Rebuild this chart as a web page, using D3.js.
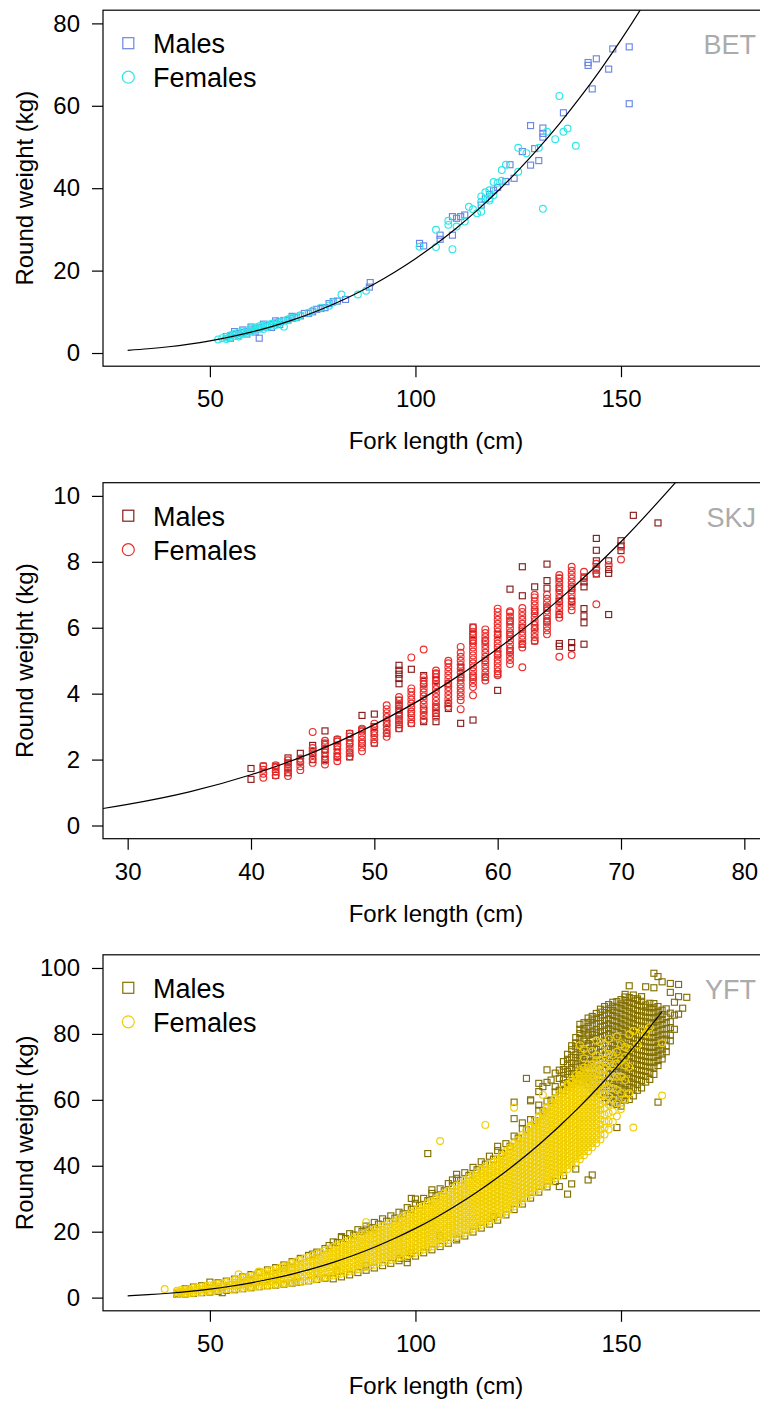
<!DOCTYPE html>
<html>
<head>
<meta charset="utf-8">
<script src="https://cdn.jsdelivr.net/npm/d3@7"></script>
<style>
  body { margin: 0; background: #fff; }
  svg text { font-family: "Liberation Sans", Arial, sans-serif; }
</style>
</head>
<body>
<svg id="chart" width="760" height="1403"></svg>
<script>
// ---- BET : [fork length, round weight]
var betMales = [[152,74.3],[148,73.8],[144,71.4],[142,70.5],[142,69.8],[147,68.9],[143,64.1],[152,60.5],[136,58.3],
  [128,55.2],[131,54.6],[131,53.3],[131,52.4],[129,49.6],[126,48.9],[130,46.7],[128,45.6],[123,45.7],[122,41.6],
  [124,42.4],[116,35.9],[112,33.5],[111,33.1],[110,32.7],[109,33.1],[109,28.6],[106,28.6],[106,27.6],[101,26.6],
  [102,26.0],[118,38.5],[119,39.5],[120,40.2],[117,37.4],
  [89,17.1],[88.8,16.0],[83,13.0],[81,12.6],[80,12.5],[78,11.0],[77,10.8],[75,10.0],[74,9.6],[72,9.0],[71,8.6],
  [70,8.4],[69,8.0],[68,7.9],[67,7.6],[66,7.2],[65,6.9],[64,6.6],[63,6.3],[62,6.1],[62,3.6],[61,5.8],[60,5.6],
  [59,5.2],[58,5.0],[57,4.7],[56,4.5],[55,4.2],[54,4.0],[56,5.2],[58,5.6],[60,6.3],[63,7.0],[66,7.8],[70,8.9],
  [73,9.6],[76,10.6],[79,12.0],[55,3.6],[57,4.2],[59,4.6],[61,5.1],[65,6.2],[67,6.9]];
var betFemales = [[135,62.4],[137,54.5],[136,53.7],[134,51.9],[139,50.3],[132,53.7],[125,49.8],[127,48.5],[130,49.8],
  [122,45.7],[121,44.4],[125,44.0],[119,41.5],[120,41.3],[121,41.8],[116,38.0],[117,39.0],[118,37.5],[116,36.7],
  [118,39.5],[131,35.0],[105,29.9],[105,25.7],[108,31.1],[108,32.1],[109,25.2],[110,30.7],[112,31.9],[114,34.9],
  [115,33.9],[116,34.3],[118,37.0],[101,25.8],[113,35.5],[119,38.3],
  [52,3.3],[53,3.6],[54,3.9],[55,4.3],[55,3.8],[56,4.6],[57,4.4],[57,5.0],[58,5.3],[59,5.5],[59,4.9],[60,6.0],
  [61,6.2],[61,5.6],[62,6.5],[63,6.6],[64,6.9],[64,6.3],[65,7.1],[66,7.3],[67,7.5],[68,6.4],[68,7.8],[69,8.2],
  [70,8.5],[71,8.7],[72,9.2],[74,9.8],[75,10.3],[77,11.0],[79,11.5],[80,12.3],[82,14.2],[86,14.2],[88,15.1],
  [57,4.0],[60,5.2],[63,5.8],[66,6.8],[54,3.4],[56,4.1],[58,4.7],[62,5.9],[65,6.6]];
var betCurve = [[30,0.65],[35,1.03],[40,1.52],[45,2.16],[50,2.95],[55,3.91],[60,5.05],[65,6.40],[70,7.97],[75,9.78],
  [80,11.84],[85,14.16],[90,16.77],[95,19.68],[100,22.9],[105,26.45],[110,30.36],[115,34.63],[120,39.27],
  [125,44.31],[130,49.77],[135,55.64],[140,61.96],[145,68.74],[150,75.99],[155,83.74],[160,91.97]];

// ---- SKJ : [fork length, [round weights]]
var skjMales = [[40,[1.4,1.73]],[41,[1.8]],[42,[1.52,1.63,1.8]],[43,[1.6,1.75,1.9,2.05]],[44,[2.19,1.95]],
  [45,[2.43,2.0,2.2]],[46,[2.87,2.0,2.3,2.5]],[47,[2.1,2.4,2.6]],[48,[2.08,2.2,2.5,2.79]],[49,[3.34,2.5,2.9]],
  [50,[3.38,2.5,2.8,3.0]],[51,[2.8,3.1]],[52,[4.86,4.71,4.59,4.46,4.3,3.8,3.65,3.5,3.35,3.2,3.06,2.94]],
  [53,[4.74,3.1,3.4]],[54,[4.55,3.15,3.5,4.3]],[55,[3.15,3.4,3.6,4.4,4.6]],[56,[3.7,3.55,4.3]],[57,[3.1,4.5,4.8]],
  [58,[3.2,6.02,5.8,5.6,4.5]],[59,[4.5,5.0,5.6]],[60,[4.1,4.6,5.2,5.8]],[61,[7.17,5.3,5.8,6.2]],
  [62,[7.85,6.97,5.5,6.0]],[63,[7.24,6.0,6.5,5.6]],[64,[7.93,7.43,7.2,6.2,6.6]],[65,[5.52,5.44,6.4,6.8,7.2,7.5]],
  [66,[5.55,5.4,6.8,7.2]],[67,[7.54,7.39,7.24,6.58,6.36,6.15,5.5]],[68,[8.71,8.35,8.03,7.75,7.63]],
  [69,[8.03,7.77,7.65,6.4]],[70,[8.64,8.48,8.34]],[71,[9.41]],[73,[9.18]]];
var skjFemales = [[41,[1.45,1.57,1.69,1.81]],[42,[1.52,1.64,1.76,1.83]],[43,[1.50,1.62,1.74,1.86,1.98]],
  [44,[1.68,1.80,1.92,2.03]],[45,[1.90,2.02,2.14,2.26,2.35,2.84]],[46,[1.85,1.97,2.09,2.21,2.33,2.45,2.57]],
  [47,[1.95,2.07,2.19,2.31,2.43,2.55,2.62]],[48,[2.10,2.22,2.34,2.46,2.58,2.70,2.79]],
  [49,[2.25,2.37,2.49,2.61,2.73,2.85,2.94]],[50,[2.50,2.62,2.74,2.86,2.98,3.09]],
  [51,[2.69,2.81,2.93,3.05,3.17,3.29,3.41,3.53,3.65]],[52,[2.95,3.07,3.19,3.31,3.43,3.55,3.67,3.79,3.90]],
  [53,[3.10,3.22,3.34,3.46,3.58,3.70,3.82,3.94,4.06,4.16,5.10]],
  [54,[3.20,3.32,3.44,3.56,3.68,3.80,3.92,4.04,4.16,4.28,4.40,4.50,5.34]],
  [55,[3.30,3.42,3.54,3.66,3.78,3.90,4.02,4.14,4.26,4.38,4.50,4.62,4.70]],
  [56,[3.60,3.72,3.84,3.96,4.08,4.20,4.32,4.44,4.56,4.68,4.80,4.92,5.00]],
  [57,[3.53,3.80,3.92,4.04,4.16,4.28,4.40,4.52,4.64,4.76,4.88,5.00,5.12,5.24,5.42]],
  [58,[3.95,4.20,4.32,4.44,4.56,4.68,4.80,4.92,5.04,5.16,5.28,5.40,5.52,5.64,5.76,5.88,6.00]],
  [59,[4.40,4.52,4.64,4.76,4.88,5.00,5.12,5.24,5.36,5.48,5.60,5.72,5.84,5.95]],
  [60,[4.56,4.68,4.80,4.92,5.04,5.16,5.28,5.40,5.52,5.64,5.76,5.88,6.00,6.12,6.24,6.36,6.48,6.58]],
  [61,[4.90,5.02,5.14,5.26,5.38,5.50,5.62,5.74,5.86,5.98,6.10,6.22,6.34,6.46,6.50]],
  [62,[4.80,5.40,5.52,5.64,5.76,5.88,6.00,6.12,6.24,6.36,6.48,6.60]],
  [63,[5.60,5.72,5.84,5.96,6.08,6.20,6.32,6.44,6.56,6.68,6.80,6.92,7.00]],
  [64,[5.80,5.92,6.04,6.16,6.28,6.40,6.52,6.64,6.76,6.88,7.00]],
  [65,[5.12,6.30,6.42,6.54,6.66,6.78,6.90,7.02,7.14,7.26,7.38,7.50,7.60]],
  [66,[5.17,6.53,6.65,6.77,6.89,7.01,7.13,7.25,7.37,7.49,7.61,7.73,7.85]],
  [67,[7.5,7.7]],[68,[6.71,7.65,7.8,7.94]],[69,[7.9]],[70,[8.07,8.46]]];
var skjCurve = [[20,0.18],[25,0.36],[30,0.64],[35,1.02],[40,1.54],[45,2.21],[50,3.06],[55,4.10],[60,5.36],
  [65,6.86],[70,8.61],[75,10.65]];

// ---- YFT : [fork length, [round weights]]
var yftMales = [[42,[1.0,1.3]],[44,[1.1,2.7]],[46,[1.3,3.2]],[48,[1.5,3.6]],[50,[1.7,4.7]],[52,[1.9,4.5]],[53,[1.5]],
  [54,[2.2,5.0]],[56,[2.4,5.6]],[58,[2.7,6.3]],[60,[3.0,7.0]],[62,[3.3,7.7]],[64,[3.6,8.4]],[66,[3.8,9.1]],
  [68,[4.1,9.9,8.9]],[70,[4.4,10.9]],[71,[4.7]],[72,[4.8,11.9]],[74,[5.1,12.8]],[75,[13.2]],[76,[5.5,13.8]],
  [78,[5.9,14.9]],[79,[15.8]],[80,[5.7,16.9]],[81,[8.1,16.7]],[82,[6.3,18.2,18.5]],[83,[17.9]],[84,[6.9,19.4]],
  [85,[19.0]],[86,[7.6,20.6]],[87,[20.1]],[88,[8.3,9.6,21.7,20.5]],[89,[21.2]],[90,[9.0,22.8,21.2]],[91,[22.3]],
  [92,[9.7,23.9]],[93,[23.2]],[94,[10.4,24.8]],[95,[24.1]],[96,[11.2,11.9,25.9]],[97,[25.4]],[98,[10.6,11.9,27.3]],
  [99,[13.5,26.8,30.1]],[100,[12.6,28.6,29.9]],[101,[28.0]],[102,[13.6,30.1]],[103,[29.4,43.7]],[104,[14.5,31.6,32.7]],
  [105,[30.9]],[106,[15.5,18.8,33.0]],[107,[32.4]],[108,[16.5,34.6]],[109,[33.9,35.7]],[110,[17.5,18.0,36.2,37.4]],
  [111,[35.6]],[112,[18.7,37.9]],[113,[37.1]],[114,[19.9,39.5]],[115,[38.8]],[116,[21.1,41.2]],[117,[40.5]],
  [118,[22.3,42.9]],[119,[24.6,42.0]],[120,[23.5,44.6,45.9]],[121,[43.8]],[122,[25.1,46.7]],[123,[45.9]],
  [124,[26.7,49.0,54.3,59.3]],[125,[48.4]],[126,[28.4,51.3,53.0]],[127,[50.9,66.5]],[128,[30.2,54.0,59.7,60.0]],
  [129,[53.7]],[130,[32.0,56.8,58.4,62.5,65.0]],[131,[56.6,64.0]],[132,[33.6,59.6,65.3,69.1]],[133,[59.9,66.0]],
  [134,[35.2,62.4,64.0,68.1]],[135,[33.7,62.9,66.5,69.0]],
  [136,[37.0,62.8,64.9,66.1,68.4,69.2,71.6]],[137,[31.4,63.9,65.2,67.8,68.6,70.9,72.3,73.8]],
  [138,[34.5,64.7,66.9,67.6,69.8,71.1,72.9,75.2,76.4]],[139,[39.0,65.8,67.3,69.9,70.6,72.8,73.7,76.1,77.3,78.9]],
  [140,[65.4,67.9,68.8,70.2,72.7,73.4,75.8,76.9,78.6,80.1,81.4,82.9]],
  [141,[66.9,67.6,70.1,71.3,72.2,74.6,75.3,77.8,78.4,80.9,81.6,83.4]],
  [142,[35.7,64.6,66.2,68.7,69.4,71.6,73.1,74.5,76.3,77.1,79.6,80.3,82.2,83.5,84.8]],
  [143,[37.2,63.5,65.9,66.7,69.1,70.4,71.2,73.6,75.2,76.7,78.3,79.8,80.6,82.7,84.2,85.3]],
  [144,[62.7,64.1,66.6,67.2,69.5,71.2,72.6,73.9,75.7,77.1,78.6,80.3,81.4,83.1,84.8,86.2]],
  [145,[61.6,63.9,64.7,67.1,68.4,70.0,71.5,73.2,74.4,76.3,77.6,79.2,80.7,82.1,83.9,85.0,86.6,87.5]],
  [146,[60.7,62.1,64.6,65.2,67.6,69.1,70.8,71.9,73.6,75.1,76.8,78.1,79.5,81.2,82.6,84.1,85.7,87.2,88.3]],
  [147,[59.6,62.2,63.4,64.9,66.7,67.9,69.6,71.3,72.6,74.3,75.5,77.2,78.8,80.1,81.7,83.1,84.6,86.2,87.6,88.9]],
  [148,[59.1,61.4,62.8,64.6,65.9,67.7,68.9,70.6,72.1,73.7,75.2,76.6,78.3,79.6,81.2,82.5,84.1,85.6,87.1,88.4,89.6]],
  [149,[51.6,58.6,60.9,62.3,63.9,65.6,66.9,68.7,70.1,71.6,73.2,74.7,76.1,77.7,79.1,80.6,82.2,83.7,85.2,86.6,88.1,89.8]],
  [150,[58.1,60.6,61.9,63.6,65.1,66.4,68.2,69.6,71.1,72.7,74.1,75.6,77.2,78.6,80.1,81.7,83.1,84.6,86.1,87.7,89.1,90.4]],
  [151,[59.9,61.3,63.1,64.5,66.1,67.5,69.1,70.6,72.2,73.5,75.1,76.6,78.1,79.6,81.1,82.6,84.2,85.6,87.2,88.6,90.1,91.2,92.0]],
  [152,[60.1,62.6,63.9,65.6,67.0,68.6,70.1,71.6,73.1,74.6,76.1,77.6,79.2,80.6,82.1,83.6,85.1,86.7,88.1,89.6,91.0,94.6]],
  [153,[61.2,63.6,65.1,66.5,68.1,69.6,71.1,72.6,74.2,75.6,77.1,78.7,80.1,81.6,83.2,84.6,86.1,87.6,89.2,90.7,91.8]],
  [154,[62.9,64.6,66.1,67.6,69.1,70.7,72.1,73.6,75.2,76.6,78.1,79.7,81.1,82.6,84.2,85.6,87.1,88.7,90.1,90.6]],
  [155,[63.6,65.9,67.4,68.9,70.4,72.0,73.4,74.9,76.5,77.9,79.4,81.0,82.4,83.9,85.5,86.9,88.4,89.9,91.3]],
  [156,[65.4,67.1,68.6,70.2,71.6,73.1,74.7,76.1,77.6,79.2,80.6,82.1,83.7,85.1,86.6,88.1,88.8,94.3]],
  [157,[66.2,68.4,69.9,71.4,73.0,74.4,75.9,77.5,78.9,80.4,82.0,83.4,84.9,86.5,87.9,89.3]],
  [158,[67.7,69.9,71.4,72.9,74.4,75.9,77.4,78.9,80.4,81.9,83.4,84.9,86.4,87.9,89.2,94.0,98.4]],
  [159,[59.3,70.4,71.9,73.5,74.9,76.4,78.0,79.4,80.9,82.5,83.9,85.4,86.9,88.3,97.4]],
  [160,[72.4,73.9,75.4,76.9,78.4,79.9,81.4,82.9,84.4,85.9,87.2,95.8]],
  [161,[74.6,76.3,78.4,79.7,81.6,83.4,85.1,87.6]],[162,[77.9,79.6,81.9,83.7,86.3,92.6,95.3]],
  [163,[81.4,85.7,89.6]],[164,[86.0,91.3,95.0]],[165,[87.8]],[166,[91.1]]];
var yftFemales = [[39,[2.6]],[42,[1.1,1.6,2.1]],[43,[1.2,1.7,2.3]],[44,[1.3,1.9,2.5]],[45,[1.4,2.0,2.6]],
  [46,[1.5,2.2,2.9]],[47,[1.6,2.3,3.0]],[48,[1.7,2.5,3.3]],[49,[1.9,2.7,3.5]],[50,[2.0,2.8,3.7]],
  [51,[2.1,3.0,3.9]],[52,[2.2,3.2,4.2]],[53,[2.3,3.4,4.4]],[54,[2.5,3.6,4.7]],[55,[2.6,3.8,5.0]],
  [56,[2.7,3.6,4.5,5.3]],[57,[2.8,3.8,4.7,5.6,7.1]],[58,[2.9,4.0,5.0,6.0]],[59,[3.1,4.2,5.3,6.3]],
  [60,[3.3,4.4,5.5,6.6]],[61,[3.4,4.6,5.8,7.0]],[62,[3.5,4.8,6.0,7.3,7.9]],[63,[3.6,4.9,6.2,7.6]],
  [64,[3.8,4.9,6.0,7.0,8.0]],[65,[3.9,5.0,6.1,7.2,8.3]],[66,[4.0,5.2,6.4,7.6,8.7]],[67,[4.2,5.4,6.6,7.9,9.1]],
  [68,[4.3,5.6,6.9,8.2,9.5]],[69,[4.5,5.8,7.2,8.6,10.0]],[70,[4.6,5.8,7.0,8.2,9.3,10.5]],
  [71,[4.8,6.0,7.3,8.5,9.8,11.0]],[72,[5.0,6.3,7.6,8.9,10.1,11.4]],[73,[5.1,6.5,7.8,9.2,10.5,11.9]],
  [74,[5.3,6.7,8.1,9.5,10.9,12.3]],[75,[5.5,6.7,7.9,9.1,10.4,11.6,12.8]],[76,[5.7,7.0,8.2,9.5,10.8,12.0,13.3]],
  [77,[6.0,7.3,8.6,9.9,11.2,12.5,13.8]],[78,[6.2,7.5,8.9,10.2,11.6,12.9,14.3]],
  [79,[6.5,7.9,9.3,10.7,12.0,13.4,14.8]],[80,[6.7,7.9,9.2,10.4,11.6,12.8,14.1,15.3]],
  [81,[7.0,8.3,9.5,10.8,12.0,13.3,14.5,15.8]],[82,[7.3,8.6,9.9,11.2,12.5,13.8,15.1,16.4]],
  [83,[7.6,8.9,10.3,11.6,12.9,14.3,15.6,16.9]],[84,[7.9,9.3,10.6,12.0,13.4,14.7,16.1,17.5]],
  [85,[8.2,9.4,10.7,11.9,13.1,14.3,15.6,16.8,18.0]],[86,[8.6,9.8,11.1,12.3,13.6,14.8,16.1,17.3,18.6]],
  [87,[8.9,10.2,11.4,12.7,14.0,15.3,16.5,17.8,19.1]],[88,[9.3,10.6,11.9,13.2,14.5,15.8,17.1,18.4,19.7,22.9]],
  [89,[9.6,10.9,12.3,13.6,14.9,16.2,17.6,18.9,20.2]],[90,[10.0,11.2,12.4,13.6,14.8,16.0,17.2,18.4,19.6,20.8]],
  [91,[10.4,11.6,12.8,14.0,15.2,16.5,17.7,18.9,20.1,21.3]],[92,[10.7,12.0,13.2,14.4,15.6,16.8,18.1,19.3,20.5,21.7]],
  [93,[11.1,12.3,13.6,14.8,16.0,17.3,18.5,19.7,21.0,22.2]],[94,[11.4,12.7,13.9,15.2,16.4,17.7,18.9,20.2,21.4,22.7]],
  [95,[11.8,13.1,14.3,15.6,16.9,18.1,19.4,20.7,21.9,23.2]],
  [96,[12.2,13.4,14.6,15.8,17.0,18.2,19.4,20.6,21.8,23.0,23.9]],
  [97,[12.5,13.7,14.9,16.1,17.3,18.5,19.7,20.9,22.1,23.3,24.5]],
  [98,[12.9,14.1,15.3,16.6,17.8,19.0,20.3,21.5,22.7,24.0,25.2]],
  [99,[13.2,14.5,15.7,17.0,18.2,19.5,20.7,22.0,23.3,24.5,25.8]],
  [100,[13.6,14.8,16.0,17.2,18.4,19.6,20.8,22.0,23.2,24.4,25.6,26.5]],
  [101,[14.1,15.3,16.5,17.7,18.9,20.1,21.3,22.5,23.7,24.9,26.1,27.2]],
  [102,[14.6,15.8,17.0,18.2,19.4,20.6,21.8,23.0,24.2,25.4,26.6,27.9]],
  [103,[15.0,16.2,17.4,18.7,19.9,21.1,22.4,23.6,24.8,26.1,27.3,28.6]],
  [104,[15.5,16.7,18.0,19.2,20.5,21.7,23.0,24.2,25.5,26.8,28.0,29.3]],
  [105,[16.0,17.3,18.5,19.8,21.1,22.4,23.6,24.9,26.2,27.4,28.7,30.0]],
  [106,[16.5,17.7,18.9,20.1,21.3,22.5,23.7,24.9,26.1,27.3,28.5,29.7,30.8,47.5]],
  [107,[17.0,18.2,19.4,20.6,21.9,23.1,24.3,25.5,26.7,27.9,29.1,30.4,31.6]],
  [108,[17.5,18.7,20.0,21.2,22.5,23.7,25.0,26.2,27.5,28.7,29.9,31.2,32.4]],
  [109,[18.0,19.3,20.5,21.8,23.1,24.3,25.6,26.9,28.1,29.4,30.7,31.9,33.2]],
  [110,[18.5,19.7,20.9,22.1,23.3,24.5,25.7,26.9,28.1,29.3,30.5,31.7,32.9,34.0]],
  [111,[19.1,20.3,21.5,22.7,23.9,25.1,26.3,27.5,28.7,29.9,31.1,32.4,33.6,34.8]],
  [112,[19.7,20.9,22.1,23.3,24.6,25.8,27.0,28.2,29.4,30.7,31.9,33.1,34.4,35.6]],
  [113,[20.3,21.5,22.7,24.0,25.2,26.5,27.7,28.9,30.2,31.4,32.7,33.9,35.2,36.4]],
  [114,[20.9,22.2,23.4,24.7,25.9,27.2,28.4,29.7,30.9,32.2,33.4,34.7,35.9,37.2]],
  [115,[21.5,22.7,23.9,25.1,26.3,27.5,28.7,29.9,31.1,32.3,33.5,34.7,35.9,37.0,38.0]],
  [116,[22.1,23.3,24.5,25.7,26.9,28.1,29.3,30.5,31.7,32.9,34.1,35.3,36.5,37.7,38.8]],
  [117,[22.7,23.9,25.1,26.3,27.5,28.7,29.9,31.1,32.3,33.5,34.7,35.9,37.1,38.4,39.6,52.4]],
  [118,[23.3,24.5,25.7,26.9,28.1,29.3,30.5,31.7,32.9,34.2,35.4,36.6,37.9,39.1,40.4]],
  [119,[23.9,25.1,26.3,27.5,28.7,29.9,31.1,32.3,33.5,34.8,36.0,37.2,38.5,39.8,41.2]],
  [120,[24.5,25.7,26.9,28.1,29.3,30.5,31.7,32.9,34.1,35.3,36.5,37.7,38.9,40.1,41.2,42.0]],
  [121,[25.3,26.5,27.7,28.9,30.1,31.3,32.5,33.7,34.9,36.1,37.3,38.5,39.7,40.9,42.1,43.2]],
  [122,[26.1,27.3,28.5,29.7,30.9,32.1,33.3,34.5,35.7,36.9,38.1,39.3,40.5,41.7,42.9,44.4]],
  [123,[26.9,28.1,29.3,30.5,31.7,32.9,34.1,35.3,36.5,37.7,38.9,40.1,41.3,42.5,43.7,44.9,45.6]],
  [124,[27.7,28.9,30.1,31.3,32.5,33.7,34.9,36.1,37.3,38.5,39.7,40.9,42.1,43.3,44.5,45.7,46.8,57.6]],
  [125,[28.5,29.7,30.9,32.1,33.3,34.5,35.7,36.9,38.1,39.3,40.5,41.7,42.9,44.1,45.3,46.5,47.9]],
  [126,[29.4,30.6,31.8,33.0,34.2,35.4,36.6,37.8,39.0,40.2,41.4,42.6,43.8,45.0,46.2,47.4,48.6,49.4]],
  [127,[30.3,31.5,32.7,33.9,35.1,36.3,37.5,38.7,39.9,41.1,42.3,43.5,44.7,45.9,47.1,48.3,49.5,50.8]],
  [128,[31.2,32.4,33.6,34.8,36.0,37.2,38.4,39.6,40.8,42.0,43.2,44.4,45.6,46.8,48.0,49.2,50.4,51.6,52.2]],
  [129,[32.1,33.3,34.5,35.7,36.9,38.1,39.3,40.5,41.7,42.9,44.1,45.3,46.5,47.7,48.9,50.1,51.3,52.5,53.6]],
  [130,[33.0,34.2,35.4,36.6,37.8,39.0,40.2,41.4,42.6,43.8,45.0,46.2,47.4,48.6,49.8,51.0,52.2,53.4,54.6,55.0]],
  [131,[33.8,35.0,36.2,37.4,38.6,39.8,41.0,42.2,43.4,44.6,45.8,47.0,48.2,49.4,50.6,51.8,53.0,54.2,55.4,56.4,61.5]],
  [132,[34.6,35.8,37.0,38.2,39.4,40.6,41.8,43.0,44.2,45.4,46.6,47.8,49.0,50.2,51.4,52.6,53.8,55.0,56.2,57.4,57.8]],
  [133,[35.4,36.6,37.8,39.0,40.2,41.4,42.6,43.8,45.0,46.2,47.4,48.6,49.8,51.0,52.2,53.4,54.6,55.8,57.0,58.2,59.2]],
  [134,[36.2,37.4,38.6,39.8,41.0,42.2,43.4,44.6,45.8,47.0,48.2,49.4,50.6,51.8,53.0,54.2,55.4,56.6,57.8,59.0,60.2,60.6]],
  [135,[37.0,38.2,39.4,40.6,41.8,43.0,44.2,45.4,46.6,47.8,49.0,50.2,51.4,52.6,53.8,55.0,56.2,57.4,58.6,59.8,61.0,62.0]],
  [136,[38.0,39.2,40.4,41.6,42.8,44.0,45.2,46.4,47.6,48.8,50.0,51.2,52.4,53.6,54.8,56.0,57.2,58.4,59.6,60.8,62.0,63.4]],
  [137,[39.0,40.2,41.4,42.6,43.8,45.0,46.2,47.4,48.6,49.8,51.0,52.2,53.4,54.6,55.8,57.0,58.2,59.4,60.6,61.8,63.0,64.2,64.8]],
  [138,[40.0,41.2,42.4,43.6,44.8,46.0,47.2,48.4,49.6,50.8,52.0,53.2,54.4,55.6,56.8,58.0,59.2,60.4,61.6,62.8,64.0,65.2,66.2]],
  [139,[41.0,42.2,43.4,44.6,45.8,47.0,48.2,49.4,50.6,51.8,53.0,54.2,55.4,56.6,57.8,59.0,60.2,61.4,62.6,63.8,65.0,66.2,67.4]],
  [140,[42.0,43.2,44.4,45.6,46.8,48.0,49.2,50.4,51.6,52.8,54.0,55.2,56.4,57.6,58.8,60.0,61.2,62.4,63.6,64.8,66.0,67.2,68.4,69.0,76.6]],
  [141,[43.2,44.4,45.6,46.8,48.0,49.2,50.4,51.6,52.8,54.0,55.2,56.4,57.6,58.8,60.0,61.2,62.4,63.6,64.8,66.0,67.2,68.4,69.8,72.6,75.4]],
  [142,[44.4,45.6,46.8,48.0,49.2,50.4,51.6,52.8,54.0,55.2,56.4,57.6,58.8,60.0,61.2,62.4,63.6,64.8,66.0,67.2,68.4,69.6,70.6]],
  [143,[45.6,46.8,48.0,49.2,50.4,51.6,52.8,54.0,55.2,56.4,57.6,58.8,60.0,61.2,62.4,63.6,64.8,66.0,67.2,68.4,69.6,70.8,74.8]],
  [144,[46.8,48.0,49.2,50.4,51.6,52.8,54.0,55.2,56.4,57.6,58.8,60.0,61.2,62.4,63.6,64.8,66.0,67.2,68.4,69.6,70.8,72.0,73.5,78.0]],
  [145,[48.0,49.5,51.0,52.5,54.0,55.5,57.0,58.5,60.0,61.5,63.0,64.5,66.0,67.5,69.0,70.5,72.0,77.5]],
  [146,[49.5,51.5,53.5,55.5,57.5,59.5,61.5,63.5,65.5,67.5,69.5,71.5,74.2,76.8]],
  [147,[51.0,53.5,56.0,58.5,61.0,63.5,66.0,68.5,71.0,73.9,78.5]],[148,[53.3,56.5,60.0,63.5,67.0,70.5,73.6]],
  [149,[55.0,59.0,63.0,67.0,71.0,74.6,79.2]],[150,[57.2,62.0,67.0,72.0,76.9]],[151,[60.0,66.0,70.5,73.0,76.0]],
  [152,[62.0,70.0,75.5,79.8]],[153,[51.6,80.9]],[154,[76.6]],[155,[81.0]],[156,[80.1]],[157,[82.0]],[160,[77.2,61.3]]];
var yftCurve = [[30,0.55],[35,0.88],[40,1.32],[45,1.88],[50,2.59],[55,3.45],[60,4.49],[65,5.72],[70,7.15],[75,8.81],
  [80,10.7],[85,12.86],[90,15.28],[95,17.99],[100,21.0],[105,24.33],[110,28.0],[115,32.03],[120,36.42],[125,41.2],
  [130,46.38],[135,51.98],[140,58.0],[145,64.5],[150,71.45],[155,78.9],[160,86.8]];

// ---- ticks and labels
var betXTicks = [50, 100, 150], betYTicks = [0, 20, 40, 60, 80];
var skjXTicks = [30, 40, 50, 60, 70, 80], skjYTicks = [0, 2, 4, 6, 8, 10];
var yftXTicks = [50, 100, 150], yftYTicks = [0, 20, 40, 60, 80, 100];
var legendLabels = ["Males", "Females"];

function flatten(cols) {
  var out = [];
  cols.forEach(function(c) { c[1].forEach(function(w) { out.push([c[0], w]); }); });
  return out;
}

var panels = [
  { name: "BET", top: 10.2, xDomain: [24, 186], yDomain: [-3.2, 83.2], xTicks: betXTicks, yTicks: betYTicks,
    males: betMales, females: betFemales, curve: betCurve, maleCol: "#6a86e6", femaleCol: "#2ee8e8" },
  { name: "SKJ", top: 482.7, xDomain: [28, 82], yDomain: [-0.4, 10.4], xTicks: skjXTicks, yTicks: skjYTicks,
    males: flatten(skjMales), females: flatten(skjFemales), curve: skjCurve, maleCol: "#8b1a1a", femaleCol: "#ee2c2c" },
  { name: "YFT", top: 954.8, xDomain: [24, 186], yDomain: [-4, 104], xTicks: yftXTicks, yTicks: yftYTicks,
    males: flatten(yftMales), females: flatten(yftFemales), curve: yftCurve, maleCol: "#837000", femaleCol: "#f0cf00" }
];

var svg = d3.select("#chart");
var plotLeft = 103, plotW = 666, plotH = 356;

panels.forEach(function(p, i) {
  var x = d3.scaleLinear().domain(p.xDomain).range([plotLeft, plotLeft + plotW]);
  var y = d3.scaleLinear().domain(p.yDomain).range([p.top + plotH, p.top]);
  var g = svg.append("g");

  g.append("clipPath").attr("id", "clip" + i)
    .append("rect").attr("x", plotLeft).attr("y", p.top).attr("width", plotW).attr("height", plotH);

  var plot = g.append("g").attr("clip-path", "url(#clip" + i + ")");

  // males first, females drawn on top
  plot.selectAll("rect.m").data(p.males).enter().append("rect")
    .attr("class", "m")
    .attr("x", d => x(d[0]) - 3).attr("y", d => y(d[1]) - 3)
    .attr("width", 6).attr("height", 6)
    .attr("fill", "none").attr("stroke", p.maleCol).attr("stroke-width", 1.15);

  plot.selectAll("circle.f").data(p.females).enter().append("circle")
    .attr("class", "f")
    .attr("cx", d => x(d[0])).attr("cy", d => y(d[1])).attr("r", 3.4)
    .attr("fill", "none").attr("stroke", p.femaleCol).attr("stroke-width", 1.15);

  var line = d3.line().x(d => x(d[0])).y(d => y(d[1])).curve(d3.curveMonotoneX);
  plot.append("path").datum(p.curve).attr("d", line)
    .attr("fill", "none").attr("stroke", "#000").attr("stroke-width", 1.2);

  // box
  g.append("rect").attr("x", plotLeft).attr("y", p.top).attr("width", plotW).attr("height", plotH)
    .attr("fill", "none").attr("stroke", "#000").attr("stroke-width", 1.2);

  // axes
  var xAxis = g.append("g").attr("transform", "translate(0," + (p.top + plotH) + ")")
    .call(d3.axisBottom(x).tickValues(p.xTicks).tickSize(11).tickPadding(13).tickSizeOuter(0));
  var yAxis = g.append("g").attr("transform", "translate(" + plotLeft + ",0)")
    .call(d3.axisLeft(y).tickValues(p.yTicks).tickSize(11).tickPadding(12).tickSizeOuter(0));
  [xAxis, yAxis].forEach(function(a) {
    a.select(".domain").remove();
    a.selectAll("line").attr("stroke", "#000").attr("stroke-width", 1.2);
    a.selectAll("text").attr("font-size", 24).attr("fill", "#000")
      .attr("font-family", "'Liberation Sans', Arial, sans-serif");
  });

  // axis titles
  g.append("text").attr("x", plotLeft + plotW / 2).attr("y", p.top + plotH + 83)
    .attr("text-anchor", "middle").attr("font-size", 24).text("Fork length (cm)");
  g.append("text").attr("transform", "translate(33," + (p.top + plotH / 2) + ") rotate(-90)")
    .attr("text-anchor", "middle").attr("font-size", 24).text("Round weight (kg)");

  // species label
  g.append("text").attr("x", 756).attr("y", p.top + 44).attr("text-anchor", "end")
    .attr("font-size", 27).attr("fill", "#ababab").text(p.name);

  // legend
  g.append("rect").attr("x", 128.3 - 5.5).attr("y", p.top + 33 - 5.5).attr("width", 11).attr("height", 11)
    .attr("fill", "none").attr("stroke", p.maleCol).attr("stroke-width", 1.2);
  g.append("circle").attr("cx", 128.3).attr("cy", p.top + 67).attr("r", 6)
    .attr("fill", "none").attr("stroke", p.femaleCol).attr("stroke-width", 1.2);
  g.append("text").attr("x", 153).attr("y", p.top + 43).attr("font-size", 27).text(legendLabels[0]);
  g.append("text").attr("x", 153).attr("y", p.top + 77).attr("font-size", 27).text(legendLabels[1]);
});
</script>
</body>
</html>
